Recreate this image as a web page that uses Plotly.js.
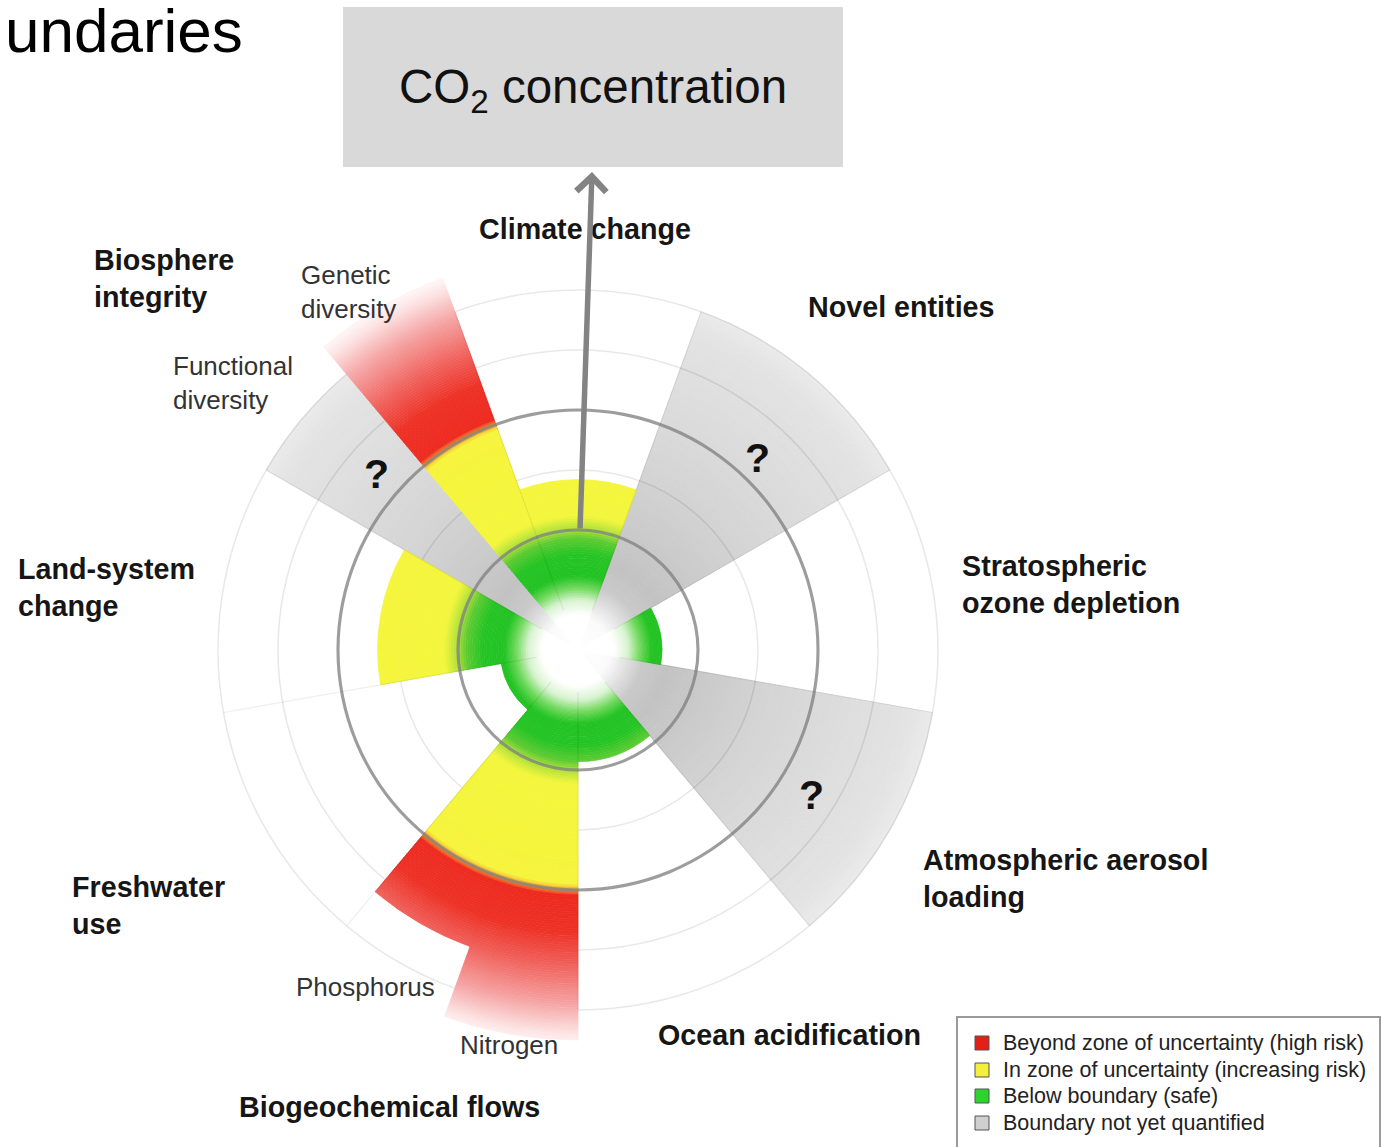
<!DOCTYPE html>
<html><head><meta charset="utf-8">
<script src="https://cdn.plot.ly/plotly-3.0.1.min.js"></script>
<style>html,body{margin:0;padding:0;background:#fff}#chart{width:1382px;height:1147px}</style>
</head><body><div id="chart"></div>
<script>
// ---------------- data ----------------
const boundaries = ['Climate change','Novel entities','Stratospheric ozone depletion','Atmospheric aerosol loading','Ocean acidification','Nitrogen','Phosphorus','Freshwater use','Land-system change','Functional diversity','Genetic diversity'];
const boundaryGroup = ['Climate change','Novel entities','Stratospheric ozone depletion','Atmospheric aerosol loading','Ocean acidification','Biogeochemical flows','Biogeochemical flows','Freshwater use','Land-system change','Biosphere integrity','Biosphere integrity'];
const sectorAngle = [0, 40, 80, 120, 160, 190, 210, 240, 280, 310, 330];
const sectorWidth = [40, 40, 40, 40, 40, 20, 20, 40, 40, 20, 20];
// control variable relative to boundary (1 = planetary boundary, 2 = upper end of zone of uncertainty)
const controlLevel = [1.42, 3.0, 0.70, 3.0, 0.93, 3.25, 2.63, 0.65, 1.67, 3.0, 3.3];
const quantified = [true, false, true, false, true, true, true, true, true, false, true];
const statusLabels = ['Beyond zone of uncertainty (high risk)','In zone of uncertainty (increasing risk)','Below boundary (safe)','Boundary not yet quantified'];
const statusColors = ['#e41f1a','#f3ef3a','#2ed42e','#cfcfcf'];
const boundaryLevel = 1, upperLevel = 2;
const gridLevels = [1.5, 2.5, 3.0];

// ---------------- styling (gradients) ----------------
const riskRamp = [[0,'#ffffff'],[0.30,'#ffffff'],[0.42,'#d8f3d0'],[0.52,'#72d95e'],[0.62,'#22c322'],[0.80,'#25c425'],[0.93,'#5ccb33'],[1.02,'#b5e33a'],[1.12,'#f3f63c'],[1.96,'#f6f43c'],[2.0,'#f1a22e'],[2.05,'#ee2b20'],[2.35,'#ee3226'],[2.62,'#f0605a'],[2.95,'#f5a3a3'],[3.2,'#fde4e4'],[3.35,'#ffffff']];
const grayRamp = [[0,'#ffffff'],[0.28,'#fafafa'],[0.42,'#e0e0e0'],[0.55,'#c9c9c9'],[0.75,'#c2c2c2'],[1.1,'#cacaca'],[1.6,'#d4d4d4'],[2.2,'#dcdcdc'],[2.8,'#e3e3e3'],[3.0,'#eaeaea']];

function hexToRgb(h){h=h.replace('#','');return [parseInt(h.slice(0,2),16),parseInt(h.slice(2,4),16),parseInt(h.slice(4,6),16)];}
function rampColor(stops, r){
  if(r<=stops[0][0]) return stops[0][1];
  for(let k=1;k<stops.length;k++){
    if(r<=stops[k][0]){
      const r0=stops[k-1][0], r1=stops[k][0];
      const a=hexToRgb(stops[k-1][1]), b=hexToRgb(stops[k][1]);
      const t=(r-r0)/(r1-r0);
      return 'rgb('+a.map((v,j)=>Math.round(v+(b[j]-v)*t)).join(',')+')';
    }
  }
  return stops[stops.length-1][1];
}
const dr = 0.02;
function sectorTrace(i){
  const stops = quantified[i] ? riskRamp : grayRamp;
  const base=[], rr=[], cols=[];
  for(let b=0; b < controlLevel[i]-1e-9; b+=dr){
    const top=Math.min(b+dr, controlLevel[i]);
    base.push(b); rr.push(top-b); cols.push(rampColor(stops,(b+top)/2));
  }
  return {type:'barpolar', name:boundaries[i], theta:base.map(()=>sectorAngle[i]), width:base.map(()=>sectorWidth[i]),
    base:base, r:rr, marker:{color:cols, line:{color:cols, width:0.8}}, hoverinfo:'name', showlegend:false};
}
function ringTrace(levels, thick, color){
  return {type:'barpolar', theta:levels.map(()=>0), width:levels.map(()=>360), base:levels.map(v=>v-thick/2),
    r:levels.map(()=>thick), marker:{color:color, line:{width:0}}, hoverinfo:'skip', showlegend:false};
}

const traces = [];
boundaries.forEach((b,i)=>{ if(!quantified[i]) traces.push(sectorTrace(i)); });
traces.push(ringTrace(gridLevels, 0.013, 'rgba(0,0,0,0.09)'));
boundaries.forEach((b,i)=>{ if(quantified[i]) traces.push(sectorTrace(i)); });
traces.push(ringTrace([boundaryLevel, upperLevel], 0.026, 'rgba(130,130,130,0.78)'));
// faint spokes between different boundaries
boundaries.forEach((b,i)=>{
  const prev = (i + boundaries.length - 1) % boundaries.length;
  if(boundaryGroup[prev] === boundaryGroup[i]) return;
  const e = sectorAngle[i] - sectorWidth[i]/2;
  traces.push({type:'scatterpolar', mode:'lines', r:[0.35, gridLevels[gridLevels.length-1]], theta:[e,e],
    line:{color:'rgba(0,0,0,0.07)', width:1.2}, hoverinfo:'skip', showlegend:false});
});

// ---------------- layout ----------------
const W=1382, H=1147;
const px = x => x/W, py = y => 1 - y/H;
const FONT = 'Liberation Sans, Arial, sans-serif';
const ann = [];
function label(text, x, y, opts){
  ann.push(Object.assign({text:text, x:px(x), y:py(y), xref:'paper', yref:'paper', showarrow:false,
    xanchor:'left', yanchor:'middle', align:'left', font:{family:FONT, size:28.7, color:'#161616'}}, opts||{}));
}
const bold = t => '<b>'+t+'</b>';
label(bold('Climate change'), 585, 229, {xanchor:'center'});
label(bold('Novel entities'), 806, 307);
label(bold('Stratospheric<br>ozone depletion'), 960, 584);
label(bold('Atmospheric aerosol<br>loading'), 921, 878);
label(bold('Ocean acidification'), 656, 1035);
label(bold('Biogeochemical flows'), 237, 1107);
label(bold('Freshwater<br>use'), 70, 905);
label(bold('Land-system<br>change'), 16, 587);
label(bold('Biosphere<br>integrity'), 92, 279);
const sub = {font:{family:FONT, size:26, color:'#333333'}};
label('Genetic<br>diversity', 299, 292, sub);
label('Functional<br>diversity', 171, 383, sub);
label('Phosphorus', 294, 987, sub);
label('Nitrogen', 458, 1045, sub);
const q = {xanchor:'center', font:{family:FONT, size:41, color:'#111111'}};
label(bold('?'), 376, 474, q);
label(bold('?'), 757, 458, q);
label(bold('?'), 811, 795, q);
// cropped heading
label('undaries', 245, 31, {xanchor:'right', font:{family:FONT, size:62, color:'#000000'}});
// CO2 box text
label('CO<sub>2</sub> concentration', 593, 90, {xanchor:'center', font:{family:FONT, size:47.5, color:'#111111'}});
// arrow
ann.push({x:px(592), y:py(172), xref:'paper', yref:'paper', ax:-12, ay:358, text:'', showarrow:true,
  arrowhead:4, arrowsize:1.05, arrowwidth:5.5, arrowcolor:'#838383'});

const shapes = [
  {type:'rect', xref:'paper', yref:'paper', x0:px(343), x1:px(843), y0:py(7), y1:py(167), fillcolor:'#d9d9d9', line:{width:0}, layer:'below'},
  {type:'rect', xref:'paper', yref:'paper', x0:px(957), x1:px(1380), y0:py(1017), y1:py(1160), fillcolor:'#ffffff', line:{color:'#9a9a9a', width:2}}
];
const legY = [1043, 1070, 1096, 1123];
statusLabels.forEach((t,k)=>{
  shapes.push({type:'rect', xref:'paper', yref:'paper', x0:px(975), x1:px(989), y0:py(legY[k]-7), y1:py(legY[k]+7),
    fillcolor:statusColors[k], line:{color:'#555555', width:1}});
  label(t, 1001, legY[k], {font:{family:FONT, size:21.5, color:'#222222'}});
});

const layout = {
  width:W, height:H, margin:{l:0,r:0,t:0,b:0}, paper_bgcolor:'#ffffff', showlegend:false,
  polar:{
    domain:{x:[px(170), px(986)], y:[py(1058), py(242)]},
    bgcolor:'rgba(0,0,0,0)', barmode:'overlay', hole:0,
    radialaxis:{range:[0,3.4], visible:false, showgrid:false},
    angularaxis:{rotation:90, direction:'clockwise', visible:false, showgrid:false}
  },
  annotations:ann, shapes:shapes
};
Plotly.newPlot('chart', traces, layout, {displayModeBar:false, staticPlot:true});
</script>
</body></html>
